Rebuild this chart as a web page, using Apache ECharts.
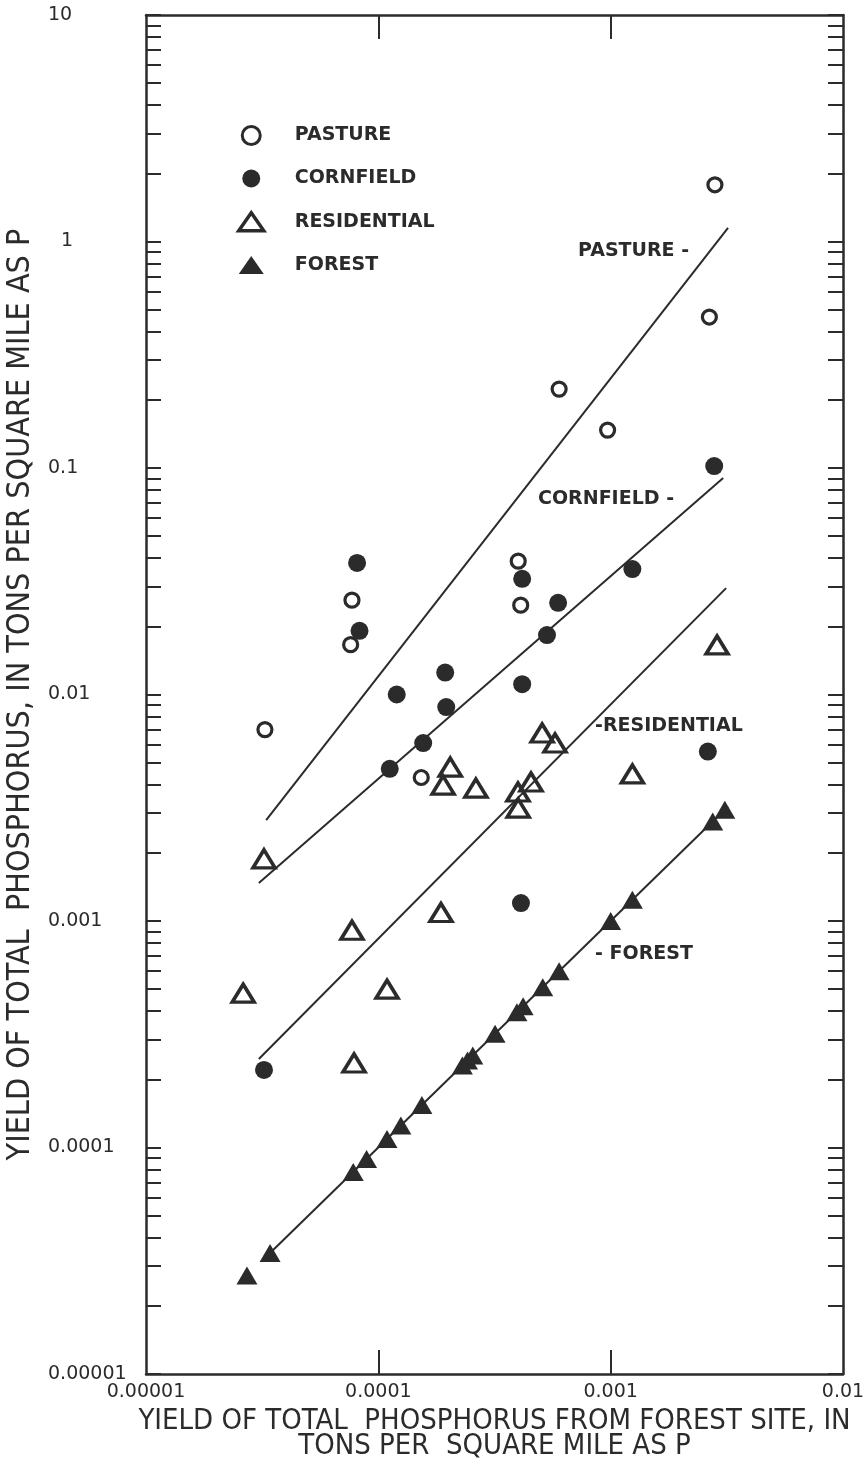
<!DOCTYPE html>
<html>
<head>
<meta charset="utf-8">
<script src="https://cdn.jsdelivr.net/npm/echarts@6/dist/echarts.min.js"></script>
<style>
  html, body { margin: 0; padding: 0; background: #ffffff; }
  #chart { width: 867px; height: 1462px; }
</style>
</head>
<body>
<div id="chart"></div>
<script>
// Axis tick values and their printed labels
const xTickValues = [1e-5, 1e-4, 1e-3, 1e-2];
const xTickLabels = ['0.00001', '0.0001', '0.001', '0.01'];
const xInnerTicks = [1e-4, 1e-3];
const yTickValues = [1e-5, 1e-4, 1e-3, 1e-2, 1e-1, 1, 10];
const yTickLabels = ['0.00001', '0.0001', '0.001', '0.01', '0.1', '1', '10'];
const yMinorSteps = [2, 3, 4, 5, 6, 7, 8, 9];

// Yield pairs: [forest-site yield, land-use yield], tons per square mile as P
const pasture = [
  [3.25e-5, 0.0070], [7.7e-5, 0.0261], [7.6e-5, 0.0166], [1.53e-4, 0.0043],
  [4.0e-4, 0.0388], [4.1e-4, 0.0248], [6.0e-4, 0.223], [9.7e-4, 0.147],
  [2.66e-3, 0.464], [2.81e-3, 1.78]
];
const cornfield = [
  [8.1e-5, 0.0381], [8.3e-5, 0.0191], [1.2e-4, 0.0100], [1.94e-4, 0.0125],
  [1.96e-4, 0.0088], [1.56e-4, 0.0061], [1.12e-4, 0.0047], [4.16e-4, 0.0324],
  [5.94e-4, 0.0254], [5.32e-4, 0.0183], [4.16e-4, 0.0111], [2.79e-3, 0.102],
  [1.24e-3, 0.0358], [2.62e-3, 0.0056], [3.22e-5, 0.00022], [4.11e-4, 0.0012]
];
const residential = [
  [3.22e-5, 0.00188], [2.62e-5, 0.00048], [7.7e-5, 0.00091], [1.09e-4, 0.00050],
  [1.86e-4, 0.00109], [7.86e-5, 0.000236], [2.04e-4, 0.00478], [1.90e-4, 0.00398],
  [2.63e-4, 0.00386], [5.07e-4, 0.00676], [5.76e-4, 0.00611], [4.54e-4, 0.00411],
  [3.99e-4, 0.00371], [4.0e-4, 0.00315], [2.87e-3, 0.01655], [1.24e-3, 0.00446]
];
const forest = [
  [2.72e-5, 2.72e-5], [3.42e-5, 3.42e-5], [7.8e-5, 7.8e-5], [8.9e-5, 8.9e-5],
  [1.09e-4, 1.09e-4], [1.25e-4, 1.25e-4], [1.54e-4, 1.54e-4], [2.3e-4, 2.3e-4],
  [2.42e-4, 2.42e-4], [2.55e-4, 2.55e-4], [3.18e-4, 3.18e-4], [3.95e-4, 3.95e-4],
  [4.2e-4, 4.2e-4], [5.1e-4, 5.1e-4], [6.0e-4, 6.0e-4], [1.0e-3, 1.0e-3],
  [1.24e-3, 1.24e-3], [2.75e-3, 2.75e-3], [3.1e-3, 3.1e-3]
];

// Fitted relations, drawn between their end points
const pastureFit = [[3.29e-5, 0.00279], [3.2e-3, 1.148]];
const cornfieldFit = [[3.06e-5, 0.00147], [3.05e-3, 0.0904]];
const residentialFit = [[3.06e-5, 0.000246], [3.14e-3, 0.0295]];
const forestFit = [[3.25e-5, 3.25e-5], [3.2e-3, 3.2e-3]];

const seriesNames = ['PASTURE', 'CORNFIELD', 'RESIDENTIAL', 'FOREST'];

const INK = '#2b2b2b';
const TICK_FONT = '"DejaVu Sans", sans-serif';
const TITLE_FONT = '"DejaVu Sans Condensed", "DejaVu Sans", sans-serif';
const MARK_FONT = 'bold 19px "DejaVu Sans", sans-serif';

const yAllTicks = [];
yTickValues.forEach(function (v, i) {
  yAllTicks.push(v);
  if (i < yTickValues.length - 1) {
    yMinorSteps.forEach(function (m) { yAllTicks.push(m * v); });
  }
});

function labelFor(values, labels, v) {
  const e = Math.round(Math.log10(v));
  for (let i = 0; i < values.length; i++) {
    if (Math.round(Math.log10(values[i])) === e) return labels[i];
  }
  return '';
}

const lineBase = { color: INK, width: 2 };
const tickText = { fontFamily: TICK_FONT, fontSize: 19, color: INK };

const chart = echarts.init(document.getElementById('chart'), null, { renderer: 'canvas' });

chart.setOption({
  backgroundColor: '#ffffff',
  animation: false,
  grid: { left: 146, right: 24, top: 15, bottom: 88, outerBoundsMode: 'none', containLabel: false },
  legend: {
    orient: 'vertical',
    left: 232,
    top: 120,
    itemWidth: 25,
    itemHeight: 18,
    itemGap: 23,
    selectedMode: false,
    data: [
      { name: 'PASTURE', itemStyle: { color: '#ffffff', borderColor: INK, borderWidth: 3 } },
      { name: 'CORNFIELD', itemStyle: { color: INK, borderWidth: 0 } },
      { name: 'RESIDENTIAL', itemStyle: { color: 'rgba(255,255,255,0)', borderColor: INK, borderWidth: 3.5 } },
      { name: 'FOREST', itemStyle: { color: INK, borderWidth: 0 } }
    ],
    textStyle: {
      fontFamily: TICK_FONT, fontWeight: 'bold', fontSize: 19, color: INK,
      padding: [0, 0, 0, 26]
    }
  },
  xAxis: [
    {
      type: 'log', logBase: 10, min: 1e-5, max: 1e-2, position: 'bottom',
      name: 'YIELD OF TOTAL  PHOSPHORUS FROM FOREST SITE, IN\nTONS PER  SQUARE MILE AS P',
      nameLocation: 'middle', nameGap: 35,
      nameTextStyle: { fontFamily: TITLE_FONT, fontSize: 29, lineHeight: 25, color: INK },
      axisLine: { show: true, lineStyle: { color: INK, width: 2.5 } },
      axisTick: { show: true, inside: true, length: 24, customValues: xInnerTicks, lineStyle: lineBase },
      axisLabel: {
        show: true, margin: 9, customValues: xTickValues,
        fontFamily: TICK_FONT, fontSize: 19, color: INK,
        formatter: function (v) { return '{n|' + labelFor(xTickValues, xTickLabels, v) + '}'; },
        rich: { n: tickText }
      },
      splitLine: { show: false }, minorTick: { show: false }
    },
    {
      type: 'log', logBase: 10, min: 1e-5, max: 1e-2, position: 'top',
      axisLine: { show: true, lineStyle: { color: INK, width: 2.5 } },
      axisTick: { show: true, inside: true, length: 24, customValues: xInnerTicks, lineStyle: lineBase },
      axisLabel: { show: false },
      splitLine: { show: false }
    }
  ],
  yAxis: [
    {
      type: 'log', logBase: 10, min: 1e-5, max: 10, position: 'left',
      name: 'YIELD OF TOTAL  PHOSPHORUS, IN TONS PER SQUARE MILE AS P',
      nameLocation: 'middle', nameGap: 109, nameRotate: 90,
      nameTextStyle: { fontFamily: TITLE_FONT, fontSize: 32, color: INK },
      axisLine: { show: true, lineStyle: { color: INK, width: 2.5 } },
      axisTick: { show: true, inside: true, length: 15, customValues: yAllTicks, lineStyle: lineBase },
      axisLabel: {
        show: true, margin: 98, align: 'left', customValues: yTickValues,
        fontFamily: TICK_FONT, fontSize: 19, color: INK,
        formatter: function (v) {
          const s = labelFor(yTickValues, yTickLabels, v);
          return s === '1' ? '{one|1}' : '{n|' + s + '}';
        },
        rich: {
          n: tickText,
          one: { fontFamily: TICK_FONT, fontSize: 19, color: INK, padding: [0, 0, 0, 13] }
        }
      },
      splitLine: { show: false }
    },
    {
      type: 'log', logBase: 10, min: 1e-5, max: 10, position: 'right',
      axisLine: { show: true, lineStyle: { color: INK, width: 2.5 } },
      axisTick: { show: true, inside: true, length: 15, customValues: yAllTicks, lineStyle: lineBase },
      axisLabel: { show: false },
      splitLine: { show: false }
    }
  ],
  series: [
    { type: 'line', data: pastureFit, symbol: 'none', silent: true, z: 1, lineStyle: lineBase },
    { type: 'line', data: cornfieldFit, symbol: 'none', silent: true, z: 1, lineStyle: lineBase },
    { type: 'line', data: residentialFit, symbol: 'none', silent: true, z: 1, lineStyle: lineBase },
    { type: 'line', data: forestFit, symbol: 'none', silent: true, z: 1, lineStyle: lineBase },
    {
      name: seriesNames[0], type: 'scatter', data: pasture, z: 3, silent: true,
      symbol: 'circle', symbolSize: 14,
      itemStyle: { color: '#ffffff', borderColor: INK, borderWidth: 3.2, opacity: 1 }
    },
    {
      name: seriesNames[1], type: 'scatter', data: cornfield, z: 3, silent: true,
      symbol: 'circle', symbolSize: 18,
      itemStyle: { color: INK, opacity: 1 }
    },
    {
      name: seriesNames[2], type: 'scatter', data: residential, z: 3, silent: true,
      symbol: 'triangle', symbolSize: [22, 18],
      itemStyle: { color: 'rgba(255,255,255,0)', borderColor: INK, borderWidth: 3.5, opacity: 1 }
    },
    {
      name: seriesNames[3], type: 'scatter', data: forest, z: 3, silent: true,
      symbol: 'triangle', symbolSize: [21, 18],
      itemStyle: { color: INK, opacity: 1 }
    }
  ],
  graphic: [
    { type: 'text', x: 578, y: 251, style: { text: 'PASTURE -', font: MARK_FONT, fill: INK, verticalAlign: 'middle' } },
    { type: 'text', x: 538, y: 499, style: { text: 'CORNFIELD -', font: MARK_FONT, fill: INK, verticalAlign: 'middle' } },
    { type: 'text', x: 595, y: 726, style: { text: '-RESIDENTIAL', font: MARK_FONT, fill: INK, verticalAlign: 'middle' } },
    { type: 'text', x: 595, y: 954, style: { text: '- FOREST', font: MARK_FONT, fill: INK, verticalAlign: 'middle' } }
  ]
});
</script>
</body>
</html>
